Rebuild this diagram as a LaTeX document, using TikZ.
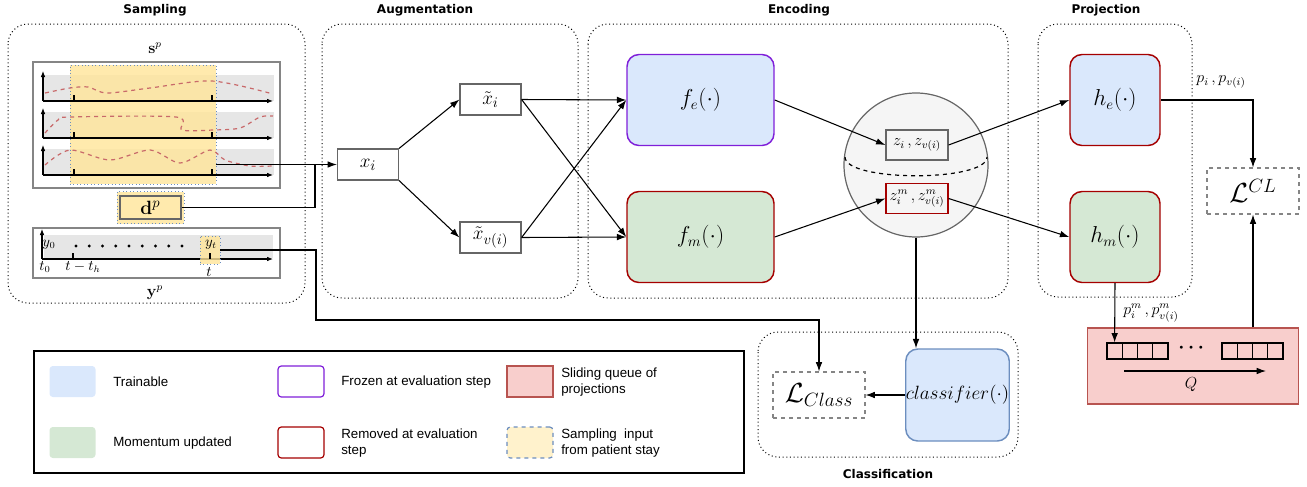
\documentclass[tikz,border=0pt]{standalone}
\usepackage[no-math]{fontspec}
\setmainfont{Liberation Sans}
\newfontfamily\headfont{DejaVu Sans}
\usepackage{amsmath,amssymb}
\usepackage{xcolor}
\usetikzlibrary{arrows.meta,positioning,calc}

\definecolor{bluefill}{HTML}{DAE8FC}
\definecolor{blueline}{HTML}{6C8EBF}
\definecolor{greenfill}{HTML}{D5E8D4}
\definecolor{redfill}{HTML}{F8CECC}
\definecolor{redline}{HTML}{B85450}
\definecolor{frozen}{HTML}{7F1FD9}
\definecolor{removed}{HTML}{A50000}
\definecolor{winfill}{HTML}{FFE599}
\definecolor{legyellow}{HTML}{FFF2CC}
\definecolor{boxgray}{HTML}{666666}
\definecolor{bandgray}{HTML}{E6E6E6}
\definecolor{spheregray}{HTML}{F5F5F5}
\definecolor{curvered}{HTML}{C8696A}

\begin{document}
\begin{tikzpicture}[x=0.75pt, y=-0.75pt,
    group/.style={draw, dotted, line width=0.75pt, rounded corners=15pt},
    title/.style={font=\headfont\bfseries\fontsize{9}{11}\selectfont},
    sframe/.style={draw=boxgray!80, line width=1.1pt},
    win/.style={draw=blueline, dotted, fill=winfill, fill opacity=0.8, line width=0.6pt, inner sep=0pt},
    curve/.style={draw=curvered, dashed, line width=0.9pt},
    timeaxis/.style={-{Latex[length=4.5pt,width=3.5pt]}, line width=0.8pt},
    mathlbl/.style={inner sep=1pt, font=\fontsize{10.5}{12}\selectfont},
    aug/.style={draw=boxgray, line width=0.9pt, inner sep=0pt, minimum width=45.75pt, minimum height=23.25pt, font=\fontsize{15}{18}\selectfont},
    net/.style={draw, line width=1.1pt, rounded corners=9pt, inner sep=0pt, minimum width=110.25pt, minimum height=68.25pt, font=\fontsize{16}{19}\selectfont},
    head/.style={net, minimum width=67.5pt},
    emb/.style={draw=boxgray, line width=0.9pt, inner sep=0pt, minimum width=46.5pt, minimum height=22.5pt, font=\fontsize{11.5}{14}\selectfont},
    loss/.style={draw=boxgray!80, dashed, line width=0.8pt, inner sep=0pt, minimum width=69pt, minimum height=34.5pt, font=\fontsize{20}{24}\selectfont},
    cell/.style={draw, line width=0.9pt, inner sep=0pt, minimum width=11.44pt, minimum height=12pt},
    swatch/.style={rounded corners=2.5pt, inner sep=0pt, minimum width=34.5pt, minimum height=23.25pt},
    legtext/.style={anchor=west, inner sep=0pt, align=left, font=\fontsize{10}{12.5}\selectfont},
    arrow/.style={-{Latex[length=7pt,width=5pt]}, line width=0.8pt},
    link/.style={line width=0.8pt}
]
\useasboundingbox (0,0) rectangle (1307,486);

% stage frames and titles
\draw[group] (8,24) rectangle (305,303);
\draw[group] (322,24) rectangle (578,298);
\draw[group] (588,24) rectangle (1008,298);
\draw[group] (1038,24) rectangle (1192,297);
\draw[group] (758,332) rectangle (1018,457);
\node[title] (tsamp) at (155,10) {Sampling};
\node[title] (taug) at (425,10) {Augmentation};
\node[title] (tenc) at (799,10) {Encoding};
\node[title] (tproj) at (1106,10) {Projection};
\node[title] (tcls) at (888,474) {Classification};

% sampling: time series s^p
\node[font=\fontsize{12}{14}\selectfont] (sp) at (155,48) {$\mathbf{s}^p$};
\draw[sframe] (33,62) rectangle (280,188);
\foreach \yb in {75,112,149}
  \fill[bandgray] (44,\yb) rectangle (274,\yb+26);
\node[win, minimum width=109.5pt, minimum height=89.25pt] (win) at (143,124.5) {};
\draw[curve] plot[smooth] coordinates {(45,93) (70,88) (88,87) (107,93) (150,88) (212,81) (273,94)};
\draw[curve] plot[smooth] coordinates {(45,133) (58,120) (70,117) (176,117) (182,130) (213,130) (240,128) (260,117) (273,116)};
\draw[curve] plot[smooth] coordinates {(45,165) (70,150) (110,160) (150,150) (180,163) (210,150) (225,160) (250,166) (272,166)};
\foreach \ya in {101,138,175} {
  \draw[timeaxis] (43,\ya) -- (43,\ya-30);
  \draw[timeaxis] (43,\ya) -- (273,\ya);
  \draw[link] (74,\ya) -- (74,\ya-6) (212,\ya) -- (212,\ya-6);
}

% sampling: static d^p
\node[win, minimum width=50.25pt, minimum height=24pt] (dpwin) at (150.5,207.5) {};
\node[draw=boxgray, line width=1.3pt, inner sep=0pt, minimum width=46pt, minimum height=17.5pt, font=\fontsize{15}{18}\selectfont] (dp) at (150.5,207.5) {$\mathbf{d}^p$};

% sampling: labels y^p
\draw[sframe] (33,228) rectangle (280,278);
\fill[bandgray] (44,235) rectangle (273,258);
\draw[timeaxis] (42,259) -- (42,229);
\draw[timeaxis] (42,259) -- (273,259);
\foreach \k in {0,...,8}
  \fill (76+13.25*\k,246) circle[radius=1.2pt];
\draw[link] (73,259) -- (73,253);
\node[win, minimum width=15pt, minimum height=21pt] (yt) at (210,250) {};
\draw[link] (210,259) -- (210,253);
\node[mathlbl] (ytl) at (211,245) {$y_t$};
\node[mathlbl] (y0) at (49,245) {$y_0$};
\node[mathlbl] (t0) at (45,267) {$t_0$};
\node[mathlbl] (tth) at (83,267) {$t-t_h$};
\node[mathlbl] (tt) at (209,272) {$t$};
\node[font=\fontsize{12}{14}\selectfont] (yp) at (155,293) {$\mathbf{y}^p$};

% augmentation
\node[aug] (xi) at (368,164.5) {$x_i$};
\node[aug] (xt) at (490.5,99.5) {$\tilde{x}_i$};
\node[aug] (xv) at (490.5,237.5) {$\tilde{x}_{v(i)}$};

% encoding
\node[net, draw=frozen, fill=bluefill] (fe) at (700.5,100) {$f_e(\cdot)$};
\node[net, draw=removed, fill=greenfill] (fm) at (700.5,237) {$f_m(\cdot)$};
\node[circle, draw=boxgray, fill=spheregray, line width=0.9pt, minimum size=108pt, inner sep=0pt] (sph) at (916,165) {};
\draw[dashed, line width=0.9pt] (845,157) .. controls (845,182) and (987,182) .. (987,157);
\node[emb] (z) at (917,145) {$z_i\,, z_{v(i)}$};
\node[emb, draw=removed] (zm) at (917,198.5) {$z^m_i\,, z^m_{v(i)}$};

% projection
\node[head, draw=removed, fill=bluefill] (he) at (1115,100) {$h_e(\cdot)$};
\node[head, draw=removed, fill=greenfill] (hm) at (1115,237) {$h_m(\cdot)$};
\node[loss] (lcl) at (1253,191) {$\mathcal{L}^{CL}$};
\node[font=\fontsize{12}{14}\selectfont] (plab) at (1221,82) {$p_i\,, p_{v(i)}$};
\node[font=\fontsize{12}{14}\selectfont] (pmlab) at (1151,313) {$p^m_i\,, p^m_{v(i)}$};

% queue
\node[draw=redline, fill=redfill, line width=0.9pt, minimum width=158.25pt, minimum height=57pt] (queue) at (1193,366) {};
\foreach \i in {0,...,3} {
  \node[cell] (c\i) at (1114.6+15.25*\i,351) {};
  \node[cell] (d\i) at (1229.6+15.25*\i,351) {};
}
\node[font=\Large] (qdots) at (1193,348) {$\boldsymbol{\cdots}$};
\draw[arrow] (1124,371) -- (1266,371);
\node[font=\fontsize{12}{14}\selectfont] (qlab) at (1191,385) {$Q$};

% classification
\node[loss] (lcls) at (819,395) {$\mathcal{L}_{Class}$};
\node[net, draw=blueline, fill=bluefill, minimum width=77.25pt, minimum height=69pt, font=\fontsize{14}{17}\selectfont] (clf) at (957.5,395) {$classifier(\cdot)$};

% legend
\draw[line width=1pt] (34,351) rectangle (744,473);
\node[swatch, fill=bluefill] (lgtrain) at (72.5,381.5) {};
\node[swatch, fill=greenfill] (lgmom) at (72.5,442.5) {};
\node[swatch, draw=frozen, line width=0.9pt] (lgfroz) at (301,381.5) {};
\node[swatch, draw=removed, line width=0.9pt] (lgrem) at (301,442.5) {};
\node[swatch, rounded corners=0pt, draw=redline, fill=redfill, line width=0.9pt] (lgq) at (530,381.5) {};
\node[swatch, dashed, draw=blueline, fill=legyellow, line width=0.9pt] (lgsamp) at (530,442.5) {};
\node[legtext] (ttrain) at (113,382) {Trainable};
\node[legtext] (tmom) at (113,443) {Momentum updated};
\node[legtext] (tfroz) at (341,382) {Frozen at evaluation step};
\node[legtext] (trem) at (341,443) {Removed at evaluation\\step};
\node[legtext] (tq) at (561,382) {Sliding queue of\\projections};
\node[legtext] (tsampl) at (561,443) {Sampling~ input\\from patient stay};

% connectors
\coordinate (sout) at (216,164.5);
\coordinate (jn) at (315,164.5);
\coordinate (bend) at (316,320);
\draw[arrow] (sout) -- (xi.west);
\draw[link] (dp.east) -| (jn);
\draw[arrow] (yt.east) -| (bend) -| (lcls.north);
\draw[arrow] (xi.north east) -- (xt.west);
\draw[arrow] (xi.south east) -- (xv.west);
\draw[arrow] (xt.east) -- (fe.west);
\draw[arrow] (xt.east) -- (fm.west);
\draw[arrow] (xv.east) -- (fe.west);
\draw[arrow] (xv.east) -- (fm.west);
\draw[arrow] (fe.east) -- (z.west);
\draw[arrow] (fm.east) -- (zm.west);
\draw[arrow] (z.east) -- (he.west);
\draw[arrow] (zm.east) -- (hm.west);
\draw[arrow] (sph.south) -- (sph.south |- clf.north);
\draw[arrow] (clf.west) -- (lcls.east);
\draw[arrow] (he.east) -| (lcl.north);
\draw[arrow] (hm.south) -- (c0.north);
\draw[arrow] (queue.north -| lcl.south) -- (lcl.south);
\end{tikzpicture}
\end{document}
